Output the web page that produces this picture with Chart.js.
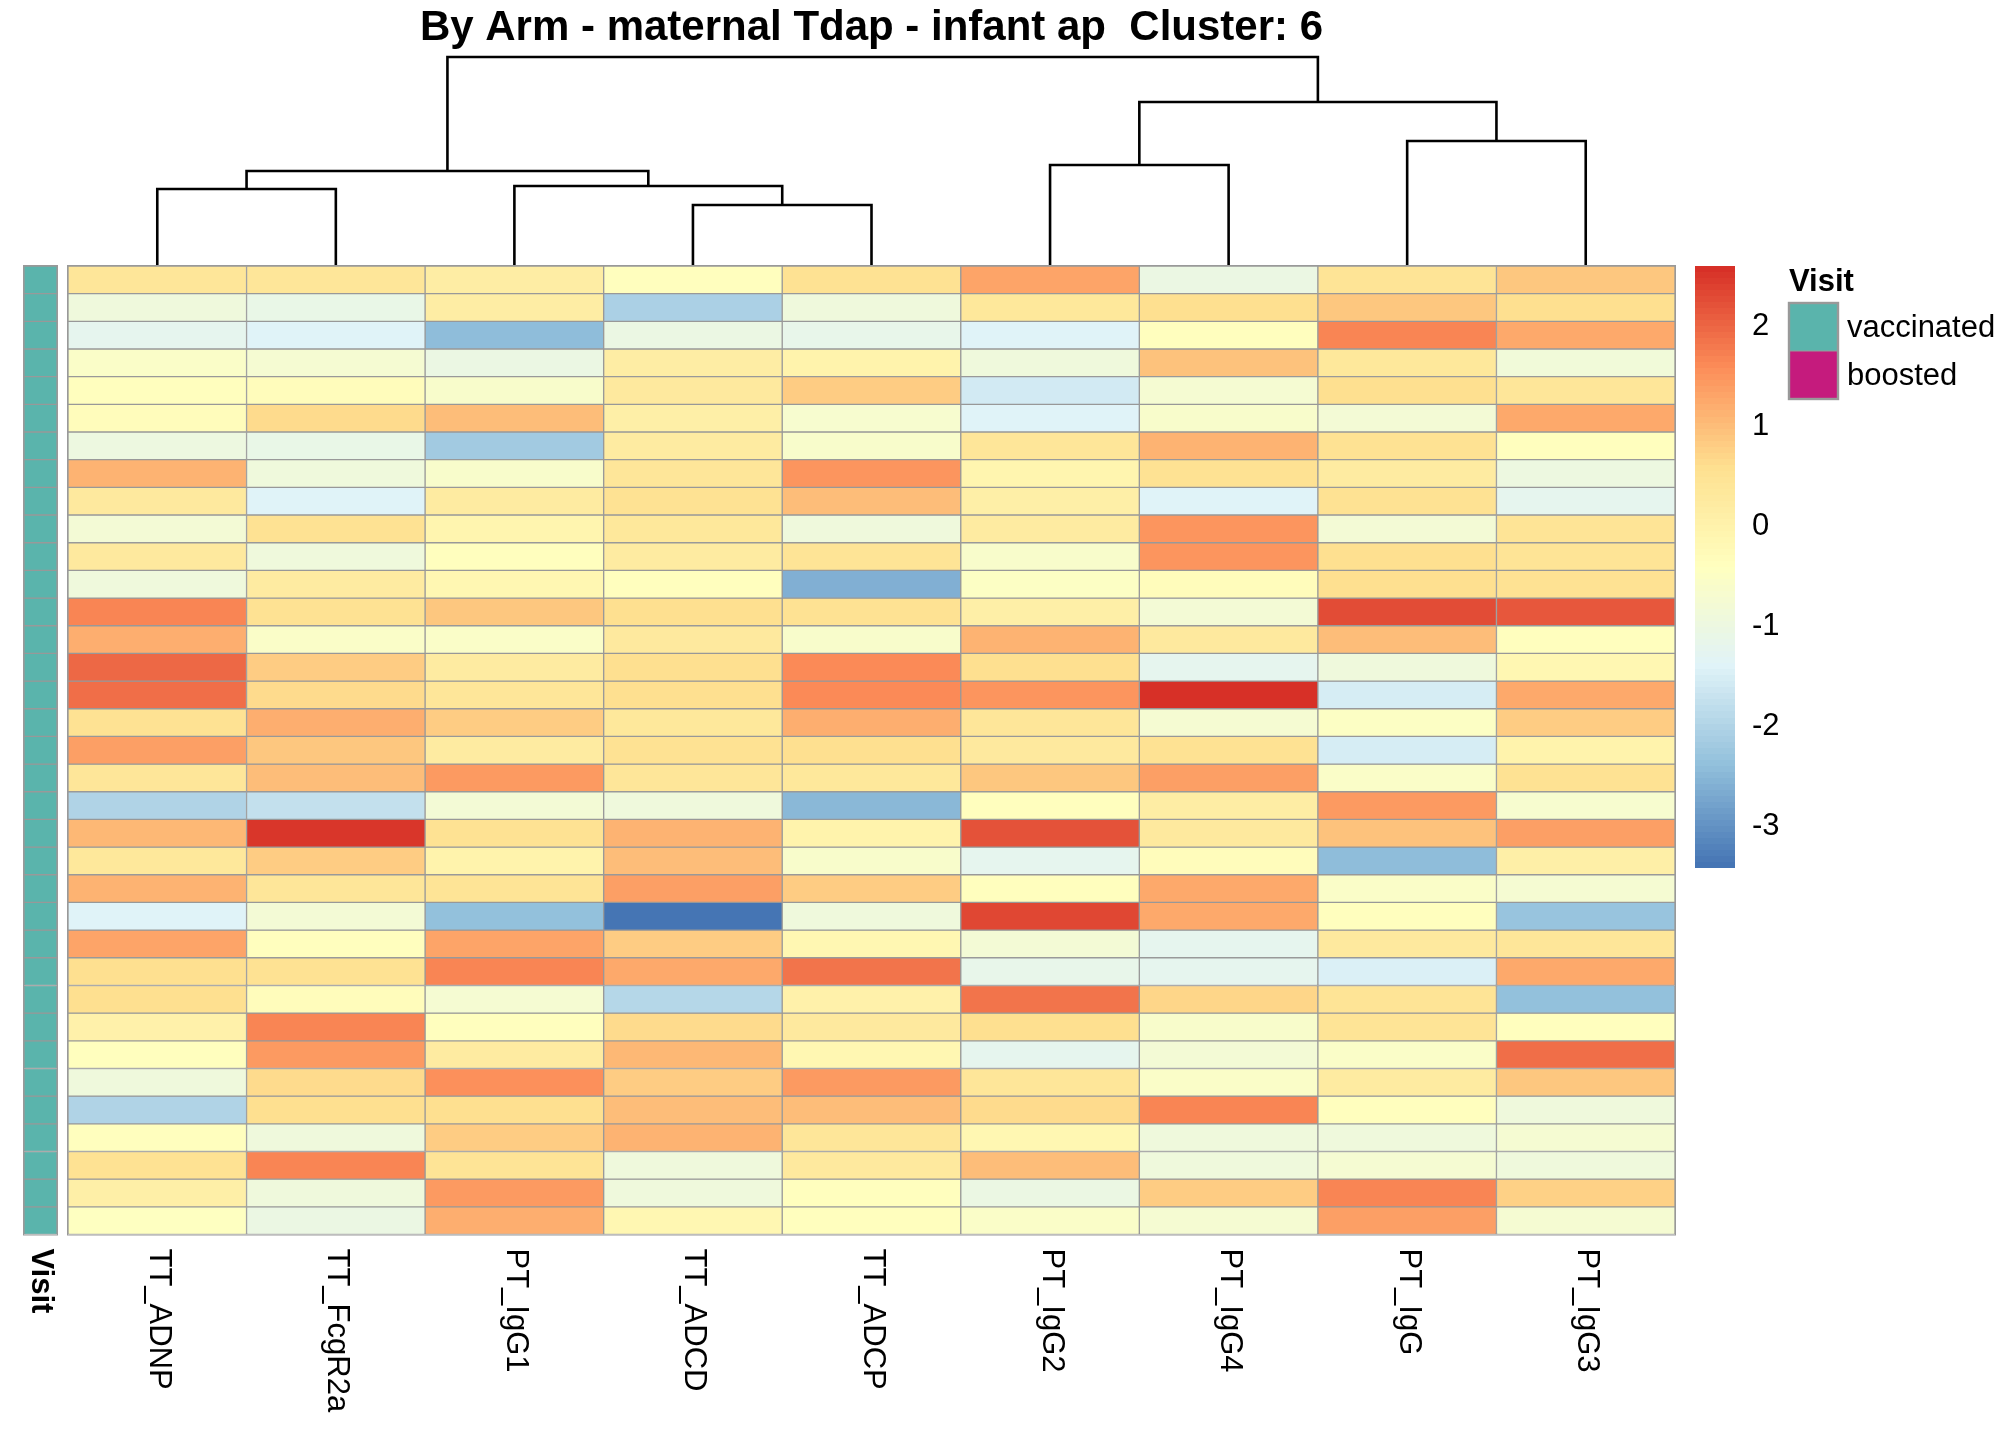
<!DOCTYPE html>
<html><head><meta charset="utf-8">
<script src="https://cdn.jsdelivr.net/npm/chart.js@4.4.0/dist/chart.umd.min.js"></script>
<style>
html,body{margin:0;padding:0;background:#fff;width:2016px;height:1440px;overflow:hidden}
canvas{position:absolute;display:block}
</style></head><body>
<canvas id="heat" width="2016" height="1440" style="left:0;top:0"></canvas>
<canvas id="anno" width="120" height="1440" style="left:0;top:0"></canvas>
<canvas id="dendro" width="1607" height="226" style="left:68px;top:40px"></canvas>
<canvas id="legend" width="321" height="640" style="left:1695px;top:250px"></canvas>
<script>
// ---------------- DATA ----------------
const titleText = 'By Arm - maternal Tdap - infant ap  Cluster: 6';
const columns = ['TT_ADNP','TT_FcgR2a','PT_IgG1','TT_ADCD','TT_ADCP','PT_IgG2','PT_IgG4','PT_IgG','PT_IgG3'];

const TT_ADNP   = [0.4,-0.95,-1.2,-0.55,-0.4,-0.3,-1.0,1.1,0.3,-0.8,0.3,-0.95,1.65,1.2,1.95,1.9,0.5,1.35,0.4,-2.0,1.05,0.35,1.1,-1.4,1.3,0.6,0.6,0.05,-0.4,-0.95,-2.0,-0.4,0.5,0.1,-0.45];
const TT_FcgR2a = [0.4,-1.1,-1.4,-0.75,-0.3,0.65,-1.1,-0.95,-1.4,0.5,-0.95,0.2,0.5,-0.55,0.85,0.65,1.2,0.9,1.0,-1.75,2.5,0.8,0.4,-0.8,-0.4,0.5,-0.3,1.65,1.45,0.65,0.6,-0.95,1.65,-0.95,-1.05];
const PT_IgG1   = [0.15,0.15,-2.45,-1.05,-0.6,1.0,-2.2,-0.6,0.25,-0.1,-0.35,-0.15,0.9,-0.55,0.25,0.4,0.8,0.25,1.45,-0.8,0.5,0.0,0.45,-2.35,1.3,1.65,-0.75,-0.4,0.2,1.55,0.6,0.85,0.45,1.45,1.2];
const TT_ADCD   = [-0.35,-2.05,-1.05,0.15,0.3,0.1,0.25,0.4,0.5,0.35,0.25,-0.35,0.6,0.3,0.6,0.6,0.35,0.55,0.4,-0.9,1.1,1.0,1.35,-3.42,0.85,1.25,-1.95,0.65,1.05,0.8,1.0,1.1,-0.95,-0.95,-0.15];
const TT_ADCP   = [0.55,-0.9,-1.15,0.0,0.8,-0.7,-0.6,1.5,1.0,-0.95,0.45,-2.6,0.5,-0.65,1.6,1.6,1.2,0.6,0.35,-2.5,0.0,-0.6,0.85,-0.95,-0.15,1.85,0.05,0.3,-0.15,1.4,1.0,0.4,0.3,-0.35,-0.35];
const PT_IgG2   = [1.3,0.35,-1.4,-0.9,-1.6,-1.4,0.4,-0.1,0.1,0.25,-0.6,-0.5,0.1,1.1,0.6,1.5,0.4,0.3,0.9,-0.4,2.2,-1.25,-0.35,2.3,-0.8,-1.15,1.85,0.6,-1.2,0.4,0.65,-0.15,1.0,-1.05,-0.55];
const PT_IgG4   = [-1.05,0.6,-0.35,0.95,-0.75,-0.6,1.1,0.55,-1.4,1.5,1.5,-0.3,-0.8,0.3,-1.2,2.6,-0.75,0.5,1.35,0.15,0.3,-0.3,1.25,1.25,-1.2,-1.2,0.7,-0.6,-0.8,-0.55,1.65,-0.9,-0.9,0.8,-0.75];
const PT_IgG    = [0.45,0.9,1.65,0.35,0.6,-0.8,0.55,0.25,0.55,-0.8,0.6,0.6,2.25,1.0,-0.95,-1.5,-0.5,-1.5,-0.55,1.45,0.95,-2.45,-0.55,-0.35,0.3,-1.45,0.45,0.45,-0.55,0.25,-0.4,-0.9,-0.75,1.65,1.35];
const PT_IgG3   = [0.9,0.6,1.25,-0.85,0.4,1.25,-0.35,-1.0,-1.25,0.45,0.45,0.55,2.15,-0.35,-0.15,1.25,0.8,0.0,0.55,-0.7,1.35,0.1,-0.75,-2.3,0.4,1.25,-2.35,-0.35,1.9,0.9,-0.9,-0.75,-0.95,0.75,-0.75];

const visit = ['vaccinated','vaccinated','vaccinated','vaccinated','vaccinated','vaccinated','vaccinated',
  'vaccinated','vaccinated','vaccinated','vaccinated','vaccinated','vaccinated','vaccinated',
  'vaccinated','vaccinated','vaccinated','vaccinated','vaccinated','vaccinated','vaccinated',
  'vaccinated','vaccinated','vaccinated','vaccinated','vaccinated','vaccinated','vaccinated',
  'vaccinated','vaccinated','vaccinated','vaccinated','vaccinated','vaccinated','vaccinated'];
const visitLevels = ['vaccinated','boosted'];
const visitColors = ['#5AB4AC','#C51B7D'];

// hclust-style merge table (negative = leaf number, positive = earlier merge)
const mergeA = [-4,-1,-3,2,-6,-8,5,4];
const mergeB = [-5,-2,1,3,-7,-9,6,7];
const mergeH = [3.0,3.8,3.95,4.7,5.0,6.2,8.15,10.4];

const legendTicks = [-3,-2,-1,0,1,2];
const rampColors = ['#4575B4','#91BFDB','#E0F3F8','#FFFFBF','#FEE090','#FC8D59','#D73027'];

// ---------------- HELPERS ----------------
const matrix = [TT_ADNP,TT_FcgR2a,PT_IgG1,TT_ADCD,TT_ADCP,PT_IgG2,PT_IgG4,PT_IgG,PT_IgG3];
const nRows = TT_ADNP.length;
const allVals = matrix.flat();
const vmin = Math.min(...allVals), vmax = Math.max(...allVals);
const FONT = '"Liberation Sans", Arial, Helvetica, sans-serif';
Chart.defaults.font.family = FONT;
Chart.defaults.color = '#000';

function hexRgb(h){return [parseInt(h.slice(1,3),16),parseInt(h.slice(3,5),16),parseInt(h.slice(5,7),16)];}
const rampRgb = rampColors.map(hexRgb);
function rampAt(t){
  const p = Math.max(0,Math.min(1,t))*(rampRgb.length-1);
  const i = Math.min(rampRgb.length-2, Math.floor(p)); const f = p-i;
  const a = rampRgb[i], b = rampRgb[i+1];
  return 'rgb('+a.map((v,k)=>Math.round(v+(b[k]-v)*f)).join(',')+')';
}
function valueColor(v){
  const t = (v-vmin)/(vmax-vmin);
  const bin = Math.min(99, Math.max(0, Math.floor(t*100)));
  return rampAt(bin/99);
}
const noInteract = {responsive:false, animation:false, events:[], devicePixelRatio:1};

// ---------------- HEATMAP ----------------
const heatText = {
  id:'heatText',
  afterDraw(chart){
    const c = chart.ctx, a = chart.chartArea, xs = chart.scales.x;
    c.save();
    c.strokeStyle = '#999999'; c.lineWidth = 1;
    c.strokeRect(a.left-0.5, a.top-0.5, a.width+1, a.height+1);
    c.fillStyle = '#000';
    c.font = 'bold 42px ' + FONT;
    c.textAlign = 'center'; c.textBaseline = 'alphabetic';
    c.fillText(titleText, (a.left+a.right)/2, 40);
    c.font = '31px ' + FONT;
    c.textAlign = 'left'; c.textBaseline = 'middle';
    columns.forEach((lab,i)=>{
      const x = xs.getPixelForValue(i);
      c.save(); c.translate(x+1, a.bottom+14); c.rotate(Math.PI/2); c.fillText(lab,0,0); c.restore();
    });
    c.restore();
  }
};
const heatDatasets = [];
for (let r=0; r<nRows; r++){
  heatDatasets.push({
    data: columns.map(()=>[r, r+1]),
    backgroundColor: matrix.map(col=>valueColor(col[r])),
    borderColor:'#999999', borderWidth:1, borderSkipped:false,
    grouped:false, categoryPercentage:1, barPercentage:1
  });
}
new Chart(document.getElementById('heat'), {
  type:'bar',
  data:{labels:columns, datasets:heatDatasets},
  options:Object.assign({}, noInteract, {
    layout:{padding:{left:68, right:341, top:266, bottom:205.5}},
    plugins:{legend:{display:false}, tooltip:{enabled:false}, title:{display:false}},
    scales:{
      x:{display:false, offset:true},
      y:{display:false, min:0, max:nRows, reverse:true}
    }
  }),
  plugins:[heatText]
});

// ---------------- ANNOTATION COLUMN ----------------
const annoText = {
  id:'annoText',
  afterDraw(chart){
    const c = chart.ctx, a = chart.chartArea;
    c.save();
    c.strokeStyle = '#999999'; c.lineWidth = 1;
    c.strokeRect(a.left-0.5, a.top-0.5, a.width+1, a.height+1);
    c.fillStyle='#000'; c.font='bold 31px '+FONT; c.textAlign='left'; c.textBaseline='middle';
    c.translate((a.left+a.right)/2, a.bottom+14); c.rotate(Math.PI/2); c.fillText('Visit',0,0);
    c.restore();
  }
};
const annoDatasets = visit.map((v,r)=>({
  data:[[r, r+1]],
  backgroundColor: visitColors[visitLevels.indexOf(v)],
  borderColor:'#999999', borderWidth:1, borderSkipped:false,
  grouped:false, categoryPercentage:1, barPercentage:1
}));
new Chart(document.getElementById('anno'), {
  type:'bar',
  data:{labels:['Visit'], datasets:annoDatasets},
  options:Object.assign({}, noInteract, {
    layout:{padding:{left:24, right:63, top:266, bottom:205.5}},
    plugins:{legend:{display:false}, tooltip:{enabled:false}},
    scales:{x:{display:false, offset:true}, y:{display:false, min:0, max:nRows, reverse:true}}
  }),
  plugins:[annoText]
});

// ---------------- DENDROGRAM ----------------
const nodeX = [], nodeH = [];
function childPos(id){ return id<0 ? [ -id-1, 0 ] : [ nodeX[id-1], nodeH[id-1] ]; }
const dendroSets = [];
for (let m=0; m<mergeA.length; m++){
  const [xa,ha] = childPos(mergeA[m]);
  const [xb,hb] = childPos(mergeB[m]);
  const h = mergeH[m];
  nodeX.push((xa+xb)/2); nodeH.push(h);
  dendroSets.push({
    data:[{x:xa,y:ha},{x:xa,y:h},{x:xb,y:h},{x:xb,y:hb}],
    showLine:true, borderColor:'#000', borderWidth:2.6, pointRadius:0, fill:false,
    borderCapStyle:'butt', borderJoinStyle:'miter', clip:false
  });
}
new Chart(document.getElementById('dendro'), {
  type:'scatter',
  data:{datasets:dendroSets},
  options:Object.assign({}, noInteract, {
    layout:{padding:{left:0, right:0, top:17, bottom:1}},
    plugins:{legend:{display:false}, tooltip:{enabled:false}},
    scales:{
      x:{type:'linear', display:false, min:-0.5, max:columns.length-0.5},
      y:{type:'linear', display:false, min:0, max:Math.max(...mergeH)}
    }
  })
});

// ---------------- COLOUR LEGEND + VISIT LEGEND ----------------
const legendText = {
  id:'legendText',
  afterDraw(chart){
    const c = chart.ctx;
    c.save();
    c.fillStyle='#000'; c.font='bold 31px '+FONT; c.textAlign='left'; c.textBaseline='alphabetic';
    c.fillText('Visit', 94, 41);
    visitLevels.forEach((lv,i)=>{
      const y0 = 53 + i*48;
      c.fillStyle = visitColors[i];
      c.fillRect(94, y0, 49, 48);
      c.fillStyle='#000'; c.font='31px '+FONT; c.textBaseline='middle';
      c.fillText(lv, 152, y0+25);
    });
    c.strokeStyle='#999999'; c.lineWidth=2.4;
    c.strokeRect(94, 53, 49, 96);
    c.beginPath(); c.moveTo(94,101); c.lineTo(143,101); c.lineWidth=1.2; c.stroke();
    c.restore();
  }
};
new Chart(document.getElementById('legend'), {
  type:'bar',
  data:{labels:[''], datasets:[{
    data:[[vmin, vmax]],
    backgroundColor:(ctx)=>{
      const ch = ctx.chart, ys = ch.scales.y;
      if (!ch.chartArea || !ys) return rampColors[3];
      const g = ch.ctx.createLinearGradient(0, ys.getPixelForValue(vmin), 0, ys.getPixelForValue(vmax));
      for (let k=0;k<100;k++){ g.addColorStop(k/100, rampAt(k/99)); g.addColorStop((k+1)/100-1e-6, rampAt(k/99)); }
      return g;
    },
    borderWidth:0, categoryPercentage:1, barPercentage:1
  }]},
  options:Object.assign({}, noInteract, {
    layout:{padding:{left:0, right:0, top:16, bottom:22}},
    plugins:{legend:{display:false}, tooltip:{enabled:false}},
    scales:{
      x:{display:false, offset:true},
      y:{position:'right', min:vmin, max:vmax,
         grid:{display:false, drawTicks:false}, border:{display:false},
         afterBuildTicks:(s)=>{ s.ticks = legendTicks.map(v=>({value:v})); },
         afterFit:(s)=>{ s.width = 281; s.paddingTop = 0; s.paddingBottom = 0; },
         ticks:{padding:17, font:{size:31, family:FONT}, color:'#000', callback:(v)=>String(v)}
      }
    }
  }),
  plugins:[legendText]
});
</script>
</body></html>
